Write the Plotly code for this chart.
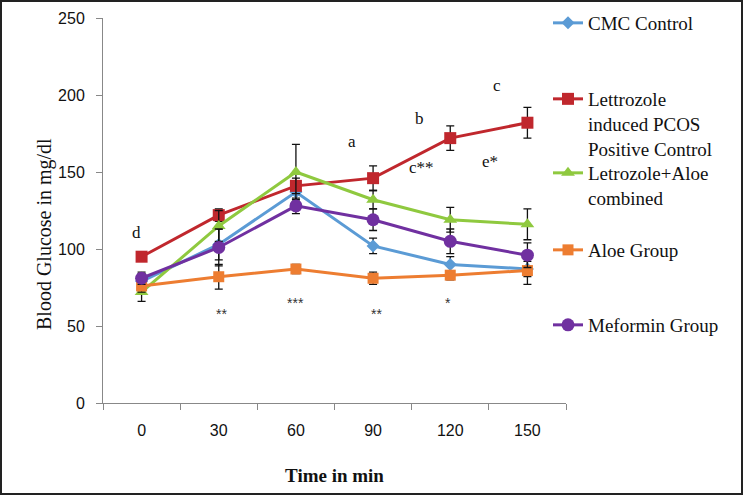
import plotly.graph_objects as go

times = ["0", "30", "60", "90", "120", "150"]

cmc_control = [79, 103, 137, 102, 90, 87]
cmc_err = [5, 10, 6, 5, 5, 5]

lettrozole_pcos = [95, 122, 141, 146, 172, 182]
lettrozole_err = [3, 4, 5, 8, 8, 10]

letrozole_aloe = [72, 115, 150, 132, 119, 116]
letrozole_aloe_err = [6, 10, 18, 6, 8, 10]

aloe_group = [76, 82, 87, 81, 83, 86]
aloe_err = [4, 8, 3, 4, 3, 9]

metformin_group = [81, 101, 128, 119, 105, 96]
metformin_err = [4, 12, 5, 7, 8, 8]

series_names = [
    "CMC Control",
    "Lettrozole<br>induced PCOS<br>Positive Control",
    "Letrozole+Aloe<br>combined",
    "Aloe Group",
    "Meformin Group",
]

y_title = "Blood Glucose in mg/dl"
x_title = "Time in min"

# annotation labels: (text, x category position, y value)
letter_labels = ["d", "a", "b", "c", "c**", "e*"]
letter_x = [-0.07, 2.73, 3.6, 4.6, 3.63, 4.52]
letter_y = [111, 170, 185, 206, 153, 157]

star_labels = ["**", "***", "**", "*"]
star_x = [1.04, 2.0, 3.04, 3.97]
star_y = [58, 65, 58, 65]

colors = ["#5B9BD5", "#C0272D", "#8FC93F", "#ED7D31", "#7030A0"]
symbols = ["diamond", "square", "triangle-up", "square", "circle"]
sizes = [10, 12, 12, 11, 13]
values = [cmc_control, lettrozole_pcos, letrozole_aloe, aloe_group, metformin_group]
errors = [cmc_err, lettrozole_err, letrozole_aloe_err, aloe_err, metformin_err]

# geometry helpers (pixels)
W, H = 744, 496
ML, MR, MT, MB = 103, 178, 18, 93
PW = W - ML - MR
PH = H - MT - MB


def px_x(p):
    return (p - ML) / PW


def px_y(p):
    return (H - MB - p) / PH


legend_tops = [4, 80, 154, 231, 306]
legend_keys = ["legend", "legend2", "legend3", "legend4", "legend5"]

fig = go.Figure()
for i in range(5):
    fig.add_trace(go.Scatter(
        x=times, y=values[i], name=series_names[i],
        mode="lines+markers",
        line=dict(color=colors[i], width=3),
        marker=dict(symbol=symbols[i], size=sizes[i], color=colors[i]),
        error_y=dict(type="data", array=errors[i], visible=True,
                     color="#111111", thickness=1.3, width=4),
        legend=legend_keys[i],
    ))

legend_font = dict(family="Liberation Serif", size=19, color="#111111")
layout_legends = {}
for i, key in enumerate(legend_keys):
    layout_legends[key] = dict(
        x=px_x(548), y=px_y(legend_tops[i]), xanchor="left", yanchor="top",
        font=legend_font, bgcolor="rgba(0,0,0,0)", valign="top",
        itemwidth=30,
    )

annotations = []
for t, x, y in zip(letter_labels, letter_x, letter_y):
    annotations.append(dict(x=x, y=y, xref="x", yref="y", text=t, showarrow=False,
                            font=dict(family="Liberation Serif", size=17, color="#111111")))
for t, x, y in zip(star_labels, star_x, star_y):
    annotations.append(dict(x=x, y=y, xref="x", yref="y", text=t, showarrow=False,
                            font=dict(family="Liberation Sans", size=14, color="#333333")))
annotations.append(dict(x=px_x(44), y=px_y(234), xref="paper", yref="paper",
                        text=y_title, textangle=-90, showarrow=False,
                        xanchor="center", yanchor="middle",
                        font=dict(family="Liberation Serif", size=20, color="#111111")))

fig.update_layout(
    width=W, height=H,
    margin=dict(l=ML, r=MR, t=MT, b=MB, autoexpand=False),
    paper_bgcolor="white", plot_bgcolor="white",
    showlegend=True,
    annotations=annotations,
    shapes=[dict(type="rect", xref="paper", yref="paper",
                 x0=px_x(1), x1=px_x(742), y0=px_y(494), y1=px_y(1),
                 line=dict(color="#222222", width=2), fillcolor="rgba(0,0,0,0)",
                 layer="above")],
    **layout_legends,
)

fig.update_xaxes(
    type="category", range=[-0.5, 5.5],
    showline=True, linecolor="#888888", linewidth=1,
    ticks="outside", tickson="boundaries", ticklen=6, tickcolor="#888888",
    showgrid=False, zeroline=False,
    tickfont=dict(family="Liberation Sans", size=16, color="#111111"),
    ticklabelstandoff=13,
    title=dict(text="<b>" + x_title + "</b>", standoff=30,
               font=dict(family="Liberation Serif", size=19, color="#111111")),
)
fig.update_yaxes(
    range=[0, 250], tickvals=[0, 50, 100, 150, 200, 250],
    showline=True, linecolor="#888888", linewidth=1,
    ticks="outside", ticklen=6, tickcolor="#888888",
    showgrid=False, zeroline=False,
    tickfont=dict(family="Liberation Sans", size=16, color="#111111"),
    ticklabelstandoff=8,
)

fig.write_html(
    "out.html",
    config={"displayModeBar": False},
    post_script="document.body.style.margin='0';document.body.style.overflow='hidden';",
)
